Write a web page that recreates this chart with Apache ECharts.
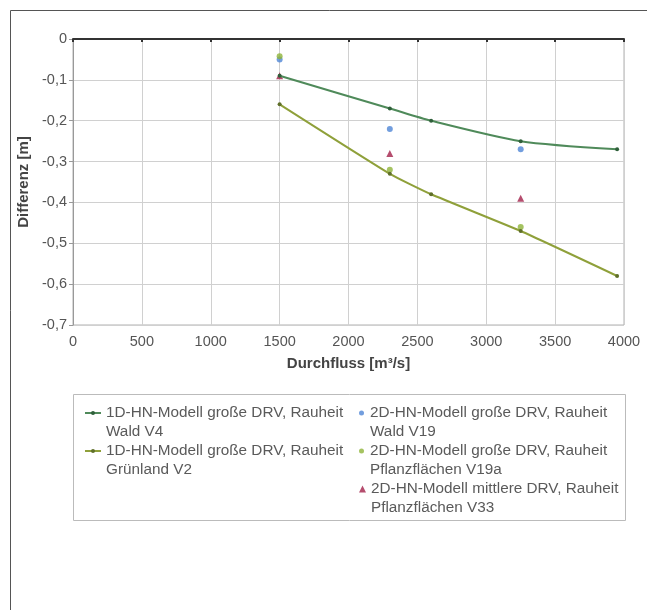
<!DOCTYPE html>
<html><head><meta charset="utf-8">
<script src="https://cdn.jsdelivr.net/npm/echarts@6/dist/echarts.min.js"></script>
<style>html,body{margin:0;padding:0;background:#fff}#c{width:647px;height:610px}</style>
</head><body><div id="c"></div>
<script>
const xTicks = [0, 500, 1000, 1500, 2000, 2500, 3000, 3500, 4000];
const x1D = [1500, 2300, 2600, 3250, 3950];
const waldV4 = [-0.09, -0.17, -0.20, -0.25, -0.27];
const gruenV2 = [-0.16, -0.33, -0.38, -0.47, -0.58];
const x2D = [1500, 2300, 3250];
const waldV19 = [-0.05, -0.22, -0.27];
const pflV19a = [-0.042, -0.32, -0.46];
const pflV33 = [-0.09, -0.28, -0.39];
const names = [
  '1D-HN-Modell große DRV, Rauheit\nWald V4',
  '1D-HN-Modell große DRV, Rauheit\nGrünland V2',
  '2D-HN-Modell große DRV, Rauheit\nWald V19',
  '2D-HN-Modell große DRV, Rauheit\nPflanzflächen V19a',
  '2D-HN-Modell mittlere DRV, Rauheit\nPflanzflächen V33'
];
const pair = (xs, ys) => xs.map((x, i) => [x, ys[i]]);
const FONT = 'Liberation Sans';
const LH = 19;
const legTxt = {fontSize: 15.3, color: '#5a5a5a', lineHeight: LH, fontFamily: FONT};
const legPos = [[84, 413, 16], [84, 451, 16], [359, 413, 7], [359, 451, 7], [359, 489, 7]];
const legends = names.map((n, i) => ({
  data: [n], left: legPos[i][0], top: legPos[i][1] - 1.5 * LH,
  itemWidth: legPos[i][2], itemHeight: i === 4 ? 7 : 5,
  textStyle: legTxt, padding: 0, formatter: t => ' \n' + t
}));
const chart = echarts.init(document.getElementById('c'));
chart.setOption({
  animation: false,
  textStyle: {fontFamily: FONT},
  grid: {left: 73, right: 23, top: 39, bottom: 285, show: true, borderColor: '#b0b0b0', borderWidth: 1},
  xAxis: [{
    type: 'value', min: 0, max: 4000, interval: 500, position: 'bottom',
    axisLine: {show: true, lineStyle: {color: '#999'}},
    axisTick: {show: false},
    axisLabel: {color: '#555', fontSize: 14.5, margin: 9, fontFamily: FONT, formatter: v => String(v)},
    splitLine: {show: true, lineStyle: {color: '#d0d0d0'}},
    name: 'Durchfluss [m³/s]', nameLocation: 'middle', nameGap: 31,
    nameTextStyle: {fontWeight: 'bold', fontSize: 15, color: '#444', fontFamily: FONT}
  }, {
    type: 'value', min: 0, max: 4000, interval: 500, position: 'top',
    axisLine: {show: true, lineStyle: {color: '#333', width: 2}},
    axisTick: {show: true, inside: true, length: 3, lineStyle: {color: '#333', width: 2}},
    axisLabel: {show: false}, splitLine: {show: false}
  }],
  yAxis: {
    type: 'value', min: -0.7, max: 0, interval: 0.1,
    axisLine: {show: true, lineStyle: {color: '#999'}},
    axisTick: {show: true, length: 4, lineStyle: {color: '#999'}},
    axisLabel: {color: '#555', fontSize: 14.5, margin: 6, fontFamily: FONT,
      formatter: v => (Math.round(v * 10) / 10).toString().replace('.', ',')},
    splitLine: {show: true, lineStyle: {color: '#d0d0d0'}},
    name: 'Differenz [m]', nameLocation: 'middle', nameGap: 40, nameRotate: 90,
    nameTextStyle: {fontWeight: 'bold', fontSize: 15, color: '#444', fontFamily: FONT}
  },
  legend: legends,
  series: [{
    name: names[0], type: 'line', data: pair(x1D, waldV4), smooth: 0.25,
    symbol: 'circle', symbolSize: 4, color: '#3f7c4e',
    lineStyle: {color: '#4f8a5a', width: 2}, itemStyle: {color: '#2f5f3a'}
  }, {
    name: names[1], type: 'line', data: pair(x1D, gruenV2), smooth: 0.15,
    symbol: 'circle', symbolSize: 4, color: '#8a9a30',
    lineStyle: {color: '#8fa03a', width: 2}, itemStyle: {color: '#5f6f2a'}
  }, {
    name: names[2], type: 'scatter', data: pair(x2D, waldV19),
    symbol: 'circle', symbolSize: 6, itemStyle: {color: '#4f86d6'}
  }, {
    name: names[3], type: 'scatter', data: pair(x2D, pflV19a),
    symbol: 'circle', symbolSize: 6, itemStyle: {color: '#8fb43a'}
  }, {
    name: names[4], type: 'scatter', data: pair(x2D, pflV33),
    symbol: 'triangle', symbolSize: 7, itemStyle: {color: '#a3204a'}
  }],
  graphic: [{
    type: 'rect', shape: {x: 10.5, y: 10.5, width: 700, height: 700},
    style: {fill: 'none', stroke: '#555', lineWidth: 1}, silent: true
  }, {
    type: 'rect', shape: {x: 73.5, y: 394.5, width: 552, height: 126},
    style: {fill: 'none', stroke: '#bbb', lineWidth: 1}, silent: true
  }]
});
</script></body></html>
